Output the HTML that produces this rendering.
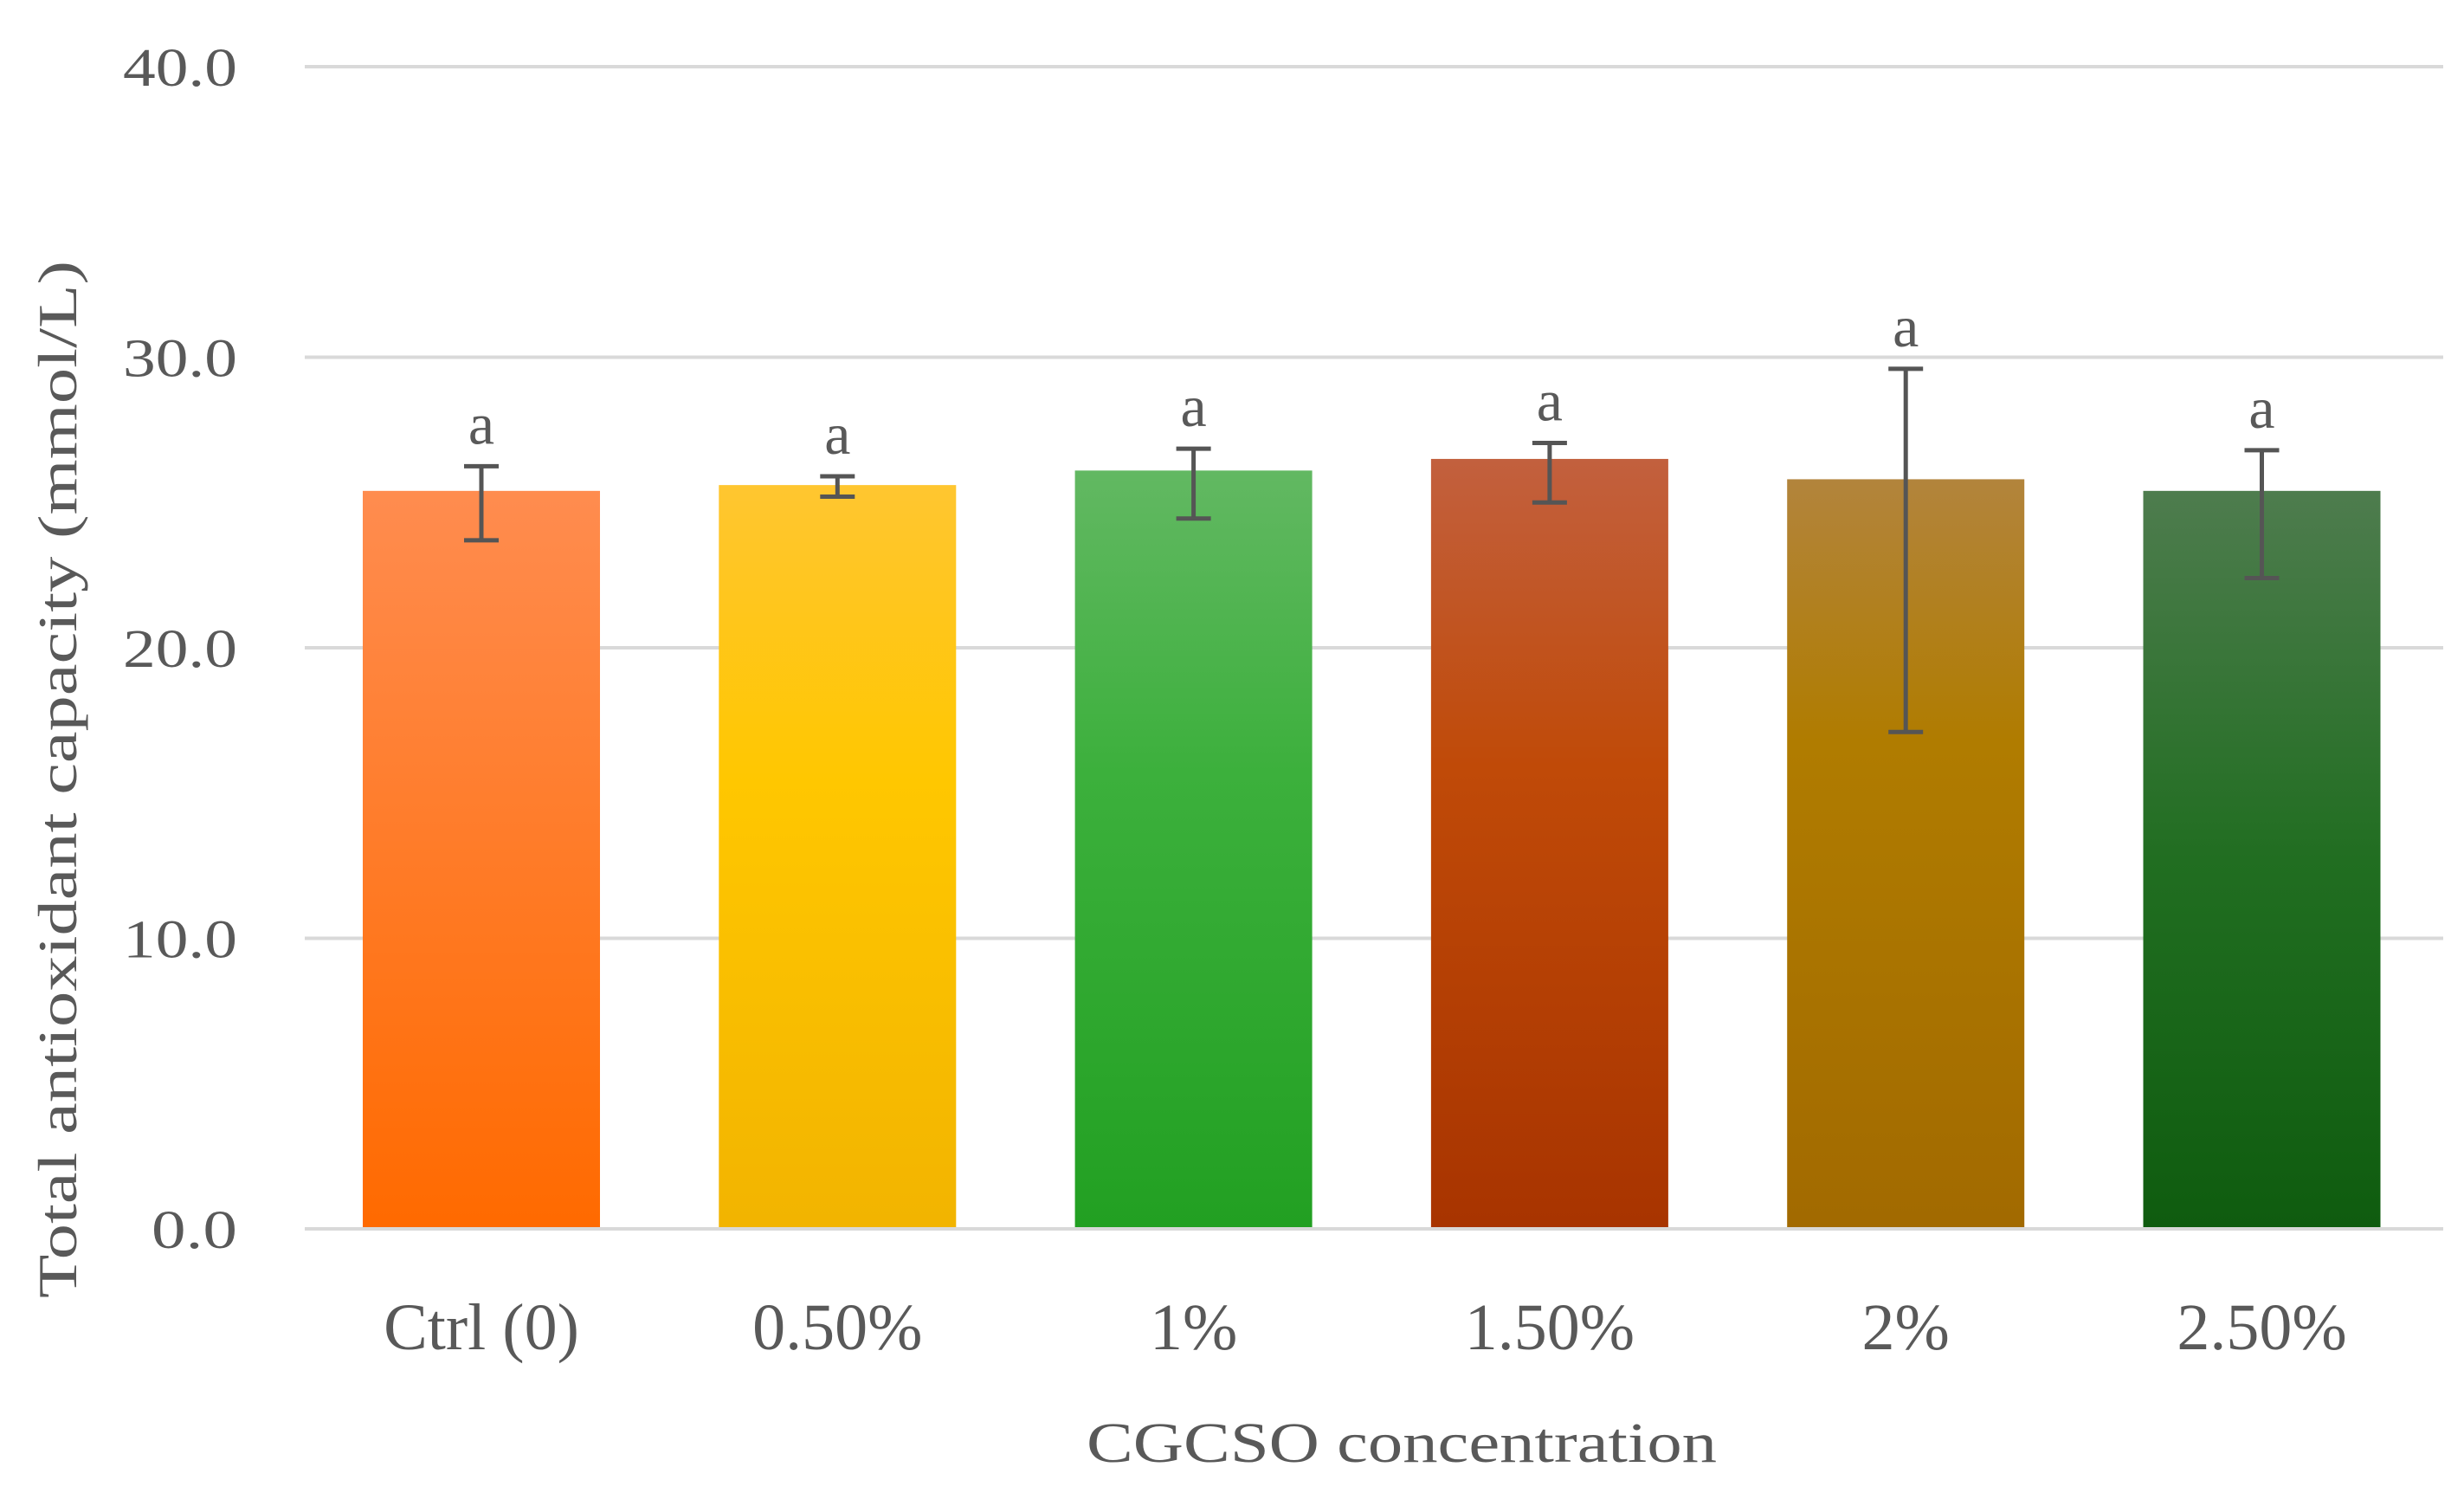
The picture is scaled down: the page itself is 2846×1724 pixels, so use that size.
<!DOCTYPE html>
<html><head><meta charset="utf-8"><style>
html,body{margin:0;padding:0;background:#fff;}
svg text{font-family:"Liberation Serif",serif;fill:#595959;}
</style></head><body>
<svg id="chart" width="2846" height="1719" viewBox="0 0 2846 1719" xmlns="http://www.w3.org/2000/svg">
<defs>
<linearGradient id="g0" x1="0" y1="0" x2="0" y2="1"><stop offset="0" stop-color="#FF8C4F"/><stop offset="1" stop-color="#FF6A00"/></linearGradient>
<linearGradient id="g1" x1="0" y1="0" x2="0" y2="1"><stop offset="0" stop-color="#FFC630"/><stop offset="0.4" stop-color="#FFC700"/><stop offset="1" stop-color="#F2B400"/></linearGradient>
<linearGradient id="g2" x1="0" y1="0" x2="0" y2="1"><stop offset="0" stop-color="#62B862"/><stop offset="0.4" stop-color="#3CB03C"/><stop offset="1" stop-color="#22A022"/></linearGradient>
<linearGradient id="g3" x1="0" y1="0" x2="0" y2="1"><stop offset="0" stop-color="#C2603E"/><stop offset="0.4" stop-color="#C04A08"/><stop offset="1" stop-color="#A83400"/></linearGradient>
<linearGradient id="g4" x1="0" y1="0" x2="0" y2="1"><stop offset="0" stop-color="#B2843C"/><stop offset="0.35" stop-color="#B07C00"/><stop offset="1" stop-color="#A26A00"/></linearGradient>
<linearGradient id="g5" x1="0" y1="0" x2="0" y2="1"><stop offset="0" stop-color="#4E7C4E"/><stop offset="0.5" stop-color="#216E21"/><stop offset="1" stop-color="#0F5C0F"/></linearGradient>
</defs>
<g id="grid"></g>
<g id="yticks"></g>
<g id="bars"></g>
<g id="errs"></g>
<g id="xlabels"></g>
<text transform="translate(88,900) rotate(-90)" text-anchor="middle" font-size="64" textLength="1198" lengthAdjust="spacingAndGlyphs">Total antioxidant capacity (mmol/L)</text>
<text x="1619" y="1688" text-anchor="middle" font-size="66" textLength="728" lengthAdjust="spacingAndGlyphs">CGCSO  concentration</text>
</svg>
<script>
const categories = ["Ctrl (0)", "0.50%", "1%", "1.50%", "2%", "2.50%"];
const values = [25.4, 25.6, 26.1, 26.5, 25.8, 25.4];
const errUpper = [26.25, 25.9, 26.85, 27.05, 29.6, 26.8];
const errLower = [23.7, 25.2, 24.45, 25.0, 17.1, 22.4];
const letters = ["a", "a", "a", "a", "a", "a"];
const yTicks = [0, 10, 20, 30, 40];

const NS = "http://www.w3.org/2000/svg";
const plotL = 352, plotR = 2822, y0 = 1419, y40 = 77;
const firstC = 556, step = 411.3;
function yScale(v){ return y0 - (v / 40) * (y0 - y40); }
function xCenter(i){ return firstC + step * i; }
function mk(tag, attrs, parent){ const e = document.createElementNS(NS, tag); for (const k in attrs) e.setAttribute(k, attrs[k]); parent.appendChild(e); return e; }

const grid = document.getElementById('grid'), yt = document.getElementById('yticks');
yTicks.forEach(t => {
  const y = yScale(t);
  const l = mk('line', {x1: plotL, x2: plotR, y1: y, y2: y, stroke: '#D9D9D9', 'stroke-width': 4}, grid);
  
  
  const s = t.toFixed(1);
  const tx = mk('text', {x: 274, y: y + 22, 'text-anchor': 'end', 'font-size': 62, textLength: s.length * 33, lengthAdjust: 'spacingAndGlyphs'}, yt);
  tx.textContent = s;
  
  
});

const bars = document.getElementById('bars'), errs = document.getElementById('errs'), xl = document.getElementById('xlabels');
const bw = 274;
categories.forEach((c, i) => {
  const cx = xCenter(i);
  const r = mk('rect', {x: cx - bw/2, y: yScale(values[i]), width: bw, height: yScale(0) - yScale(values[i]) - 2, fill: 'url(#g' + i + ')'}, bars);
  
  
  const yu = yScale(errUpper[i]), yl = yScale(errLower[i]);
  const g = mk('g', {stroke: '#555', 'stroke-width': 5}, errs);
  
  
  mk('line', {x1: cx, x2: cx, y1: yu, y2: yl}, g);
  mk('line', {x1: cx - 20, x2: cx + 20, y1: yu, y2: yu}, g);
  mk('line', {x1: cx - 20, x2: cx + 20, y1: yl, y2: yl}, g);
  const a = mk('text', {x: cx, y: yu - 26, 'text-anchor': 'middle', 'font-size': 68, fill: '#404040'}, errs);
  a.textContent = letters[i];
  
  
  const lx = mk('text', {x: cx, y: 1558, 'text-anchor': 'middle', 'font-size': 76}, xl);
  lx.textContent = c;
  
  
});
</script>
</body></html>
